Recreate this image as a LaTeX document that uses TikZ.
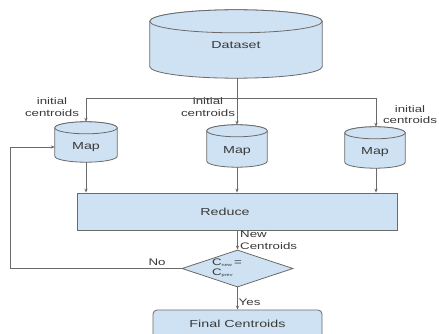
\documentclass[tikz,border=0pt]{standalone}
\usepackage{fontspec}
\setmainfont{Liberation Sans}[FakeStretch=1.4]
\usetikzlibrary{arrows.meta,shapes.geometric,calc}
\definecolor{boxfill}{HTML}{CFE2F3}
\definecolor{edge}{HTML}{6A6A6A}
\definecolor{txt}{HTML}{3A3A3A}
\tikzset{
  x=1pt, y=1pt,
  holder/.style={draw=none, inner sep=0pt, minimum width=#1},
  cylbody/.style={draw=edge, fill=boxfill, line width=0.8pt},
  mainlbl/.style={font=\fontsize{10.2}{12}\selectfont, text=txt, inner sep=0pt},
  smalllbl/.style={font=\fontsize{9.5}{11.5}\selectfont, text=txt, inner sep=0pt, align=center},
  flowbox/.style={draw=edge, fill=boxfill, line width=0.8pt, inner sep=0pt},
  conn/.style={draw=edge, line width=0.8pt},
  arr/.style={conn, -{Stealth[length=4pt,width=3.2pt]}},
}
% cylinder drawn inside the bounding box of a named node: #1 node, #2 ry (pt)
\newcommand{\drawcyl}[2]{%
  \path[cylbody]
    let \p1=(#1.north west), \p2=(#1.south east), \n1={(\x2-\x1)/2} in
    (\x1,\y1-#2pt) -- (\x1,\y2+#2pt) arc[start angle=180, end angle=360, x radius=\n1, y radius=#2pt]
    -- (\x2,\y1-#2pt) arc[start angle=0, end angle=180, x radius=\n1, y radius=#2pt] -- cycle;
  \path[cylbody]
    let \p1=(#1.north west), \p2=(#1.south east), \n1={(\x2-\x1)/2} in
    ({(\x1+\x2)/2},\y1-#2pt) ellipse[x radius=\n1, y radius=#2pt];
}
\begin{document}
\begin{tikzpicture}
\useasboundingbox (0,0) rectangle (439,-334);
\clip (0,0) rectangle (439,-334);
\fill[white] (0,0) rectangle (439,-334);

% holder nodes for cylinders
\node[holder=172, minimum height=68] (ds) at (236,-44) {};
\node[holder=62, minimum height=40] (mapL) at (86,-142) {};
\node[holder=60, minimum height=42] (mapM) at (237,-146) {};
\node[holder=60, minimum height=41] (mapR) at (375,-147.5) {};

\drawcyl{ds}{11.5}
\drawcyl{mapL}{6}
\drawcyl{mapM}{6}
\drawcyl{mapR}{6}

\node[mainlbl] (dst) at (236,-45) {Dataset};
\node[mainlbl] (mlt) at (86,-147) {Map};
\node[mainlbl] (mmt) at (237,-151) {Map};
\node[mainlbl] (mrt) at (375,-152) {Map};

% reduce, decision, final
\node[flowbox, minimum width=320, minimum height=37] (red) at (237,-211.5) {};
\node[mainlbl] (redt) at (225,-212) {Reduce};
\node[flowbox, shape=diamond, aspect=3, minimum width=111, minimum height=37] (dia) at (237.5,-268.5) {};
\node[font=\fontsize{9.5}{10}\selectfont, text=txt, inner sep=0pt, align=left] (diat) at (227,-268)
  {C\textsubscript{\fontsize{4}{4}\selectfont new}\,=\\[-0.5pt]C\textsubscript{\fontsize{4}{4}\selectfont prev}};
\node[flowbox, rounded corners=4pt, minimum width=169, minimum height=30] (fin) at (237.5,-325) {};
\node[mainlbl] (fint) at (237.5,-324) {Final Centroids};

% distribution lines
\coordinate (jL) at (86,-98);
\coordinate (jM) at (237,-98);
\coordinate (jR) at (376,-98);
\draw[conn] (jL) -- (jR);
\draw[arr] (ds.south -| jM) -- (mapM.north);
\draw[arr] (jL) -- (mapL.north);
\draw[arr] (jR) -- (mapR.north -| jR);

\node[smalllbl] (ilL) at (52,-107) {initial\\centroids};
\node[smalllbl] (ilM) at (208,-107) {initial\\centroids};
\node[smalllbl] (ilR) at (410,-114.5) {initial\\centroids};

% map to reduce
\draw[arr] (mapL.south) -- (mapL.south |- red.north);
\draw[arr] (mapM.south) -- (mapM.south |- red.north);
\draw[arr] (mapR.south -| jR) -- (jR |- red.north);

% reduce to decision
\draw[arr] (red.south -| dia.north) -- (dia.north);
\node[smalllbl, anchor=west, align=left] (nc) at (240,-240.5) {New\\Centroids};

% no loop
\coordinate (loopc) at (10,-268.5);
\draw[arr] (dia.west) -- (loopc) |- ([yshift=-5pt]mapL.west);
\node[smalllbl] (nol) at (157,-262) {No};

% yes
\draw[arr] (dia.south) -- (dia.south |- fin.north);
\node[smalllbl, anchor=west] (yesl) at (238.5,-302.5) {Yes};
\end{tikzpicture}
\end{document}
